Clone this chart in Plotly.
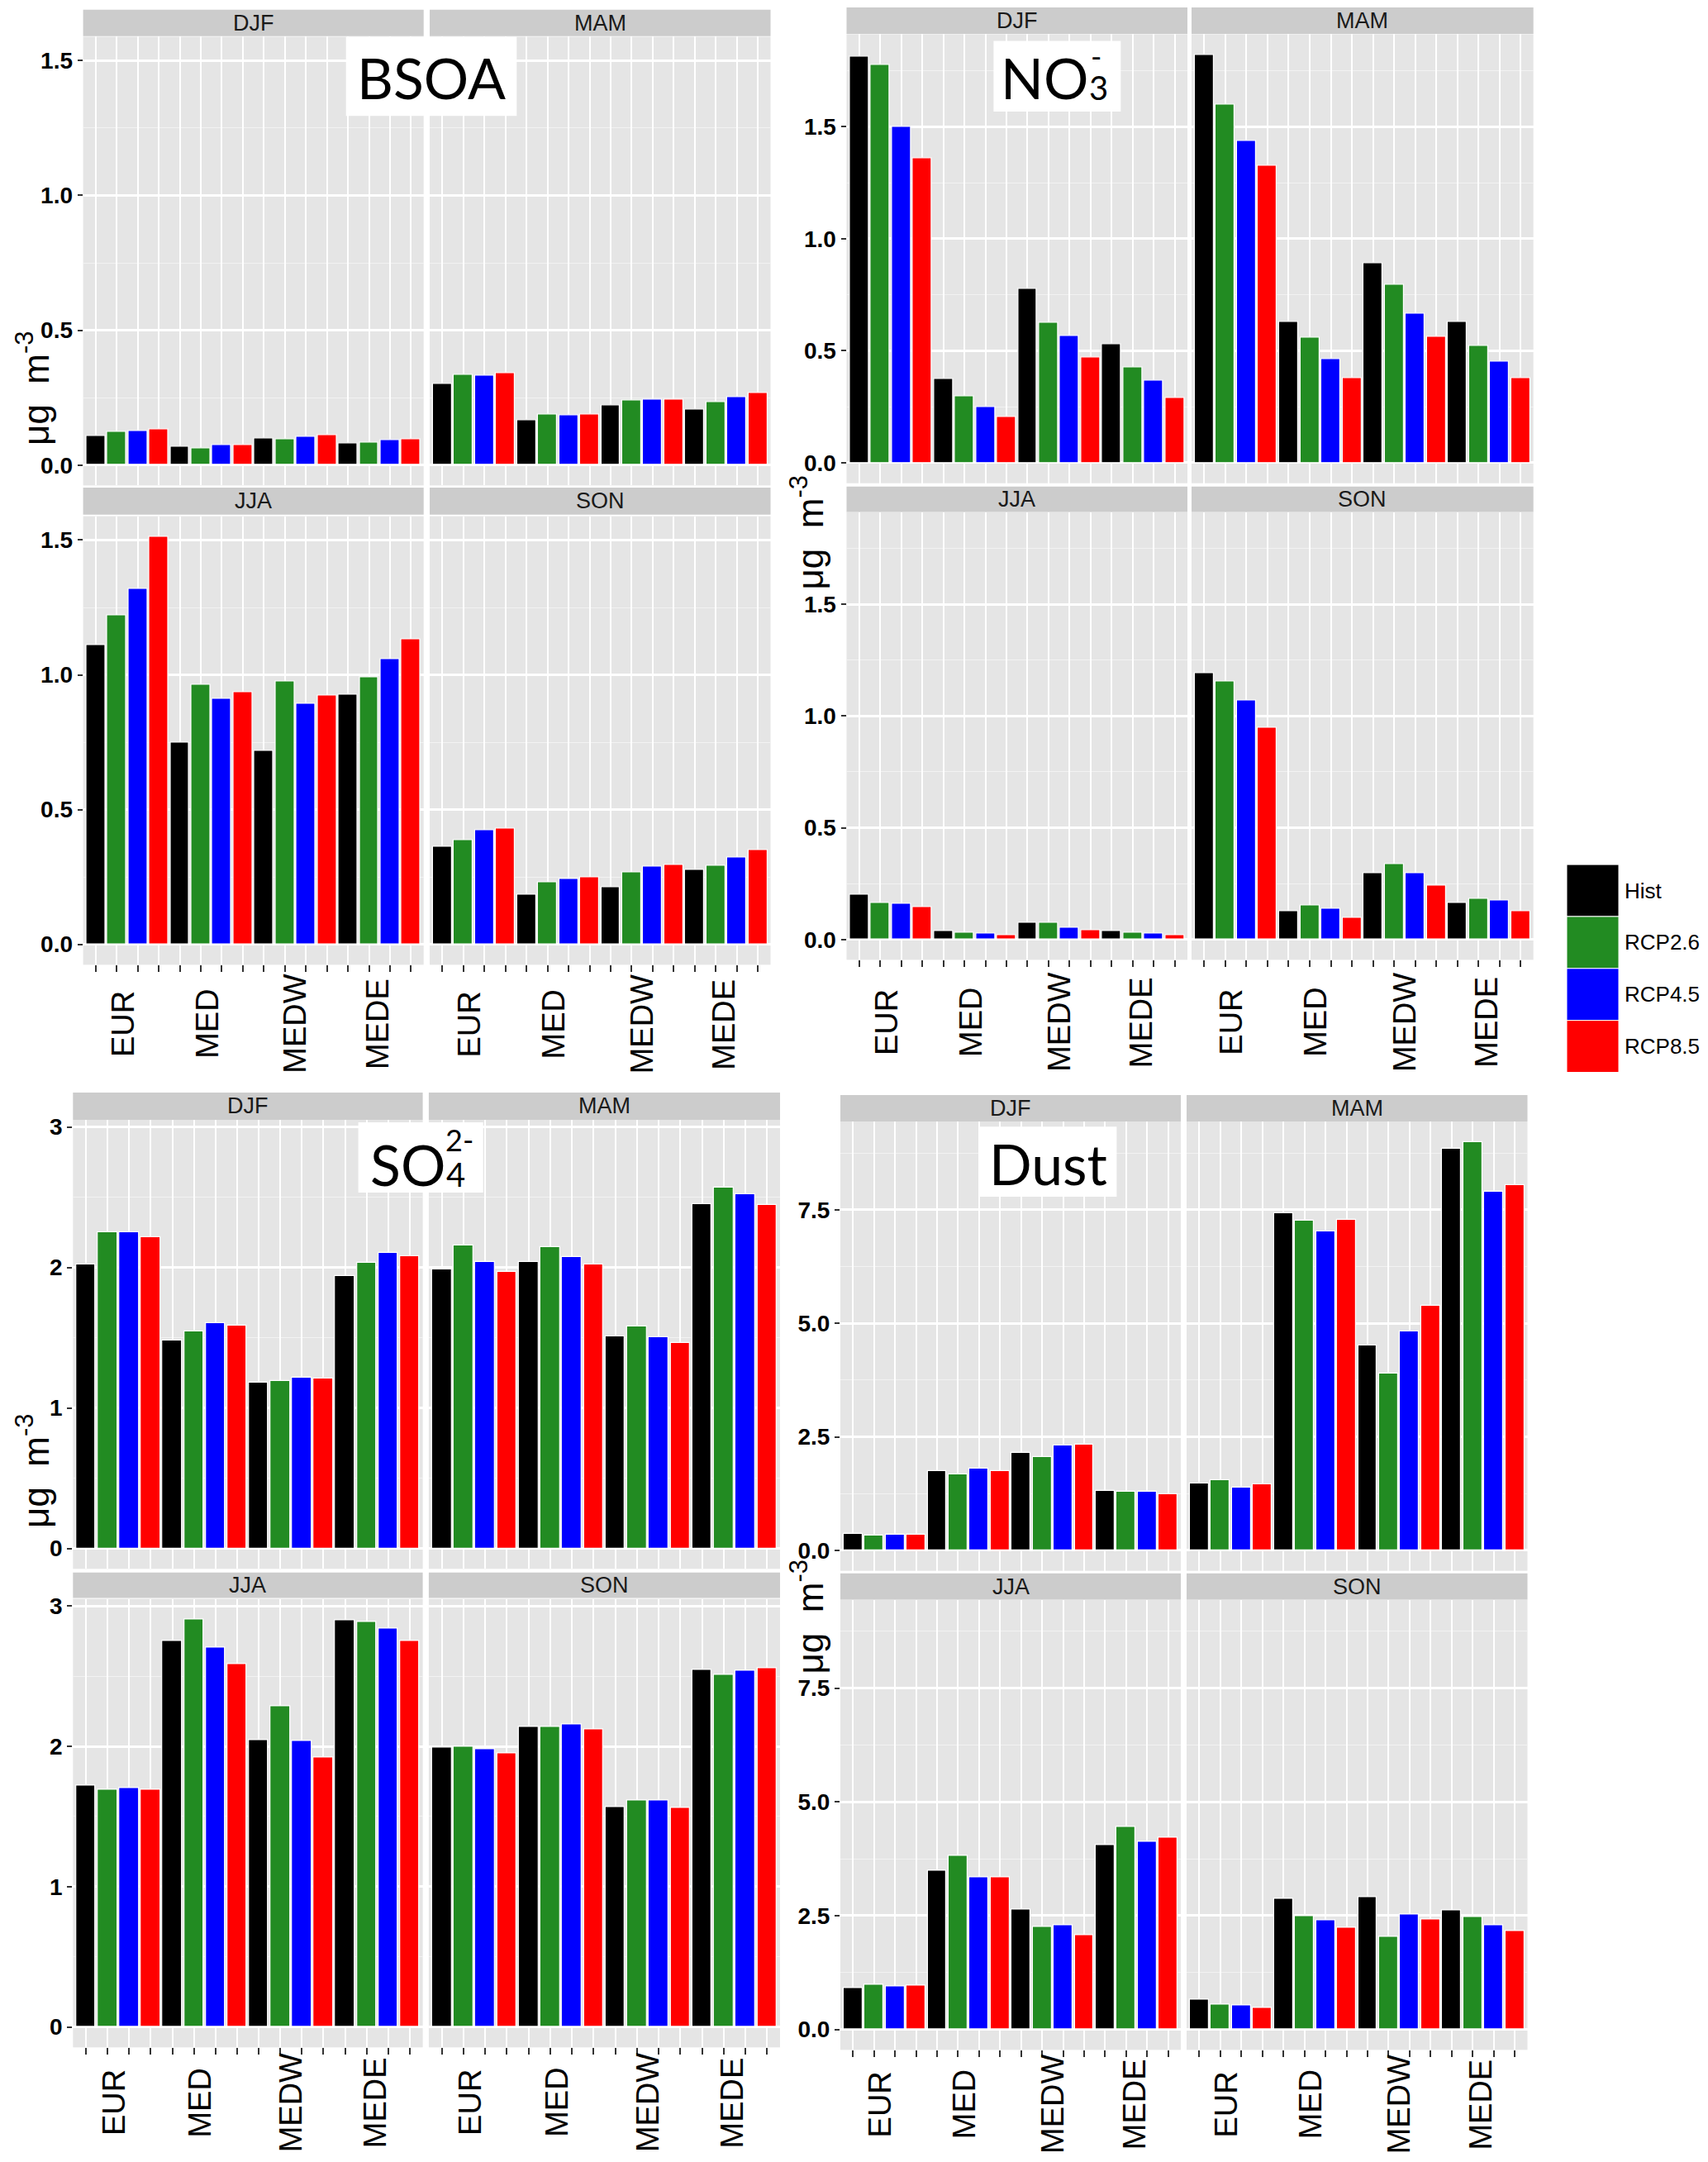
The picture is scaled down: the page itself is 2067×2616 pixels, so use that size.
import plotly.graph_objects as go

W, H = 2067, 2616          # page the chart is laid out on
OFF = 8                    # browser body margin
FW, FH = W - OFF, H - 2 * OFF

REGIONS = ["EUR", "MED", "MEDW", "MEDE"]
SCENARIOS = ["Hist", "RCP2.6", "RCP4.5", "RCP8.5"]
SEASONS = ["DJF", "MAM", "JJA", "SON"]
COLORS = ["#000000", "#228B22", "#0000FF", "#FF0000"]

# each list: EUR(Hist, RCP2.6, RCP4.5, RCP8.5), MED(...), MEDW(...), MEDE(...)
bsoa_djf = [0.109, 0.122, 0.125, 0.134, 0.067, 0.063, 0.073, 0.073, 0.100, 0.096, 0.105, 0.112, 0.080, 0.084, 0.092, 0.097]
bsoa_mam = [0.300, 0.336, 0.332, 0.340, 0.165, 0.189, 0.186, 0.189, 0.222, 0.239, 0.242, 0.242, 0.206, 0.234, 0.251, 0.267]
bsoa_jja = [1.109, 1.220, 1.319, 1.513, 0.749, 0.963, 0.910, 0.934, 0.717, 0.974, 0.894, 0.923, 0.927, 0.991, 1.059, 1.133]
bsoa_son = [0.361, 0.386, 0.423, 0.430, 0.184, 0.231, 0.241, 0.249, 0.211, 0.267, 0.289, 0.296, 0.277, 0.291, 0.321, 0.350]

no3_djf = [1.813, 1.778, 1.500, 1.358, 0.374, 0.297, 0.251, 0.204, 0.776, 0.626, 0.568, 0.471, 0.529, 0.426, 0.368, 0.290]
no3_mam = [1.822, 1.601, 1.438, 1.325, 0.631, 0.558, 0.463, 0.379, 0.893, 0.796, 0.665, 0.563, 0.631, 0.524, 0.451, 0.378]
no3_jja = [0.201, 0.165, 0.160, 0.144, 0.036, 0.029, 0.026, 0.019, 0.074, 0.074, 0.053, 0.043, 0.036, 0.029, 0.026, 0.019]
no3_son = [1.191, 1.156, 1.069, 0.948, 0.127, 0.151, 0.136, 0.098, 0.297, 0.338, 0.297, 0.242, 0.165, 0.180, 0.175, 0.127]

so4_djf = [2.023, 2.251, 2.251, 2.219, 1.481, 1.544, 1.607, 1.589, 1.178, 1.194, 1.217, 1.210, 1.941, 2.034, 2.102, 2.081]
so4_mam = [1.989, 2.156, 2.041, 1.971, 2.041, 2.147, 2.072, 2.023, 1.512, 1.580, 1.503, 1.465, 2.454, 2.569, 2.524, 2.445]
so4_jja = [1.723, 1.693, 1.701, 1.693, 2.751, 2.906, 2.704, 2.587, 2.044, 2.283, 2.036, 1.920, 2.898, 2.889, 2.837, 2.751]
so4_son = [1.989, 1.997, 1.981, 1.950, 2.136, 2.136, 2.158, 2.119, 1.568, 1.612, 1.612, 1.560, 2.546, 2.507, 2.540, 2.554]

dust_djf = [0.360, 0.330, 0.350, 0.350, 1.745, 1.675, 1.793, 1.745, 2.156, 2.059, 2.303, 2.324, 1.319, 1.291, 1.291, 1.242]
dust_mam = [1.479, 1.549, 1.389, 1.458, 7.432, 7.264, 7.027, 7.285, 4.508, 3.887, 4.822, 5.394, 8.848, 8.995, 7.892, 8.039]
dust_jja = [0.914, 0.982, 0.939, 0.956, 3.493, 3.817, 3.339, 3.339, 2.639, 2.246, 2.280, 2.067, 4.048, 4.449, 4.116, 4.219]
dust_son = [0.649, 0.547, 0.521, 0.478, 2.861, 2.485, 2.400, 2.229, 2.904, 2.041, 2.519, 2.417, 2.613, 2.468, 2.280, 2.161]

bsoa_ticks = [0, 0.5, 1.0, 1.5]
no3_ticks = [0, 0.5, 1.0, 1.5]
so4_ticks = [0, 1, 2, 3]
dust_ticks = [0, 2.5, 5.0, 7.5]

LABEL_POS = [2.3, 6.3, 10.5, 14.4]   # where the region names sit on the 16-slot axis


def px_x(v):
    return (v - OFF) / FW


def px_y(v):
    return 1 - (v - OFF) / FH


# layout of the four panels, in pixels of the page
panels = [
    dict(title=[("BSOA", 522, 88, 68, "center")], data=[bsoa_djf, bsoa_mam, bsoa_jja, bsoa_son],
         ticks=bsoa_ticks, fmt="{:.1f}",
         cols=[(100.6, 512.7), (520, 932.5)], rows=[(38.5, 582.7), (620, 1164)],
         strips=[(5.8, 37.7), (585.4, 618.2)], label_y=1236,
         ytitle=(40, 465), box=(418.7, 625.3, 38.5, 134.6)),
    dict(title=[("NO", 1319, 88, 68, "right"), ("3", 1316, 100, 40, "left"), ("-", 1318, 62, 36, "left")],
         data=[no3_djf, no3_mam, no3_jja, no3_son], ticks=no3_ticks, fmt="{:.1f}",
         cols=[(1024.5, 1437), (1442, 1855.7)], rows=[(35.5, 580), (615, 1158)],
         strips=[(3, 35), (584, 615)], label_y=1234,
         ytitle=(977, 640), box=(1202.4, 1356.3, 43.5, 129.4)),
    dict(title=[("SO", 541, 1406, 68, "right"), ("4", 538, 1418, 40, "left"), ("2-", 537, 1376, 36, "left")],
         data=[so4_djf, so4_mam, so4_jja, so4_son], ticks=so4_ticks, fmt="{:.0f}",
         cols=[(88.3, 511.6), (518.9, 944)], rows=[(1352, 1896.7), (1933, 2477)],
         strips=[(1319, 1352), (1901, 1932)], label_y=2544,
         ytitle=(40, 1778), box=(433.6, 584.7, 1355, 1440.4)),
    dict(title=[("Dust", 1268, 1405, 68, "center")], data=[dust_djf, dust_mam, dust_jja, dust_son],
         ticks=dust_ticks, fmt="{:.1f}",
         cols=[(1017, 1429), (1436, 1848.5)], rows=[(1354, 1899), (1934, 2480)],
         strips=[(1322, 1354), (1902, 1934)], label_y=2546,
         ytitle=(977, 1955), box=(1185, 1351.4, 1360.4, 1445.4)),
]

fig = go.Figure()
layout_axes = {}
shapes = []
annotations = []

for p, panel in enumerate(panels):
    top = max(max(v) for v in panel["data"])
    yrange = [-0.05 * top, 1.05 * top]
    major = panel["ticks"]
    step = major[1] - major[0]
    for s, season in enumerate(SEASONS):
        k = p * 4 + s + 1
        row, col = divmod(s, 2)
        x0, x1 = panel["cols"][col]
        y0, y1 = panel["rows"][row]
        values = panel["data"][s]
        for j, scen in enumerate(SCENARIOS):
            xs = [r * 4 + j + 1 for r in range(len(REGIONS))]
            ys = [values[r * 4 + j] for r in range(len(REGIONS))]
            fig.add_trace(go.Bar(
                x=xs, y=ys, width=0.9,
                marker=dict(color=COLORS[j], line=dict(color="white", width=1.2)),
                name=scen, showlegend=False,
                xaxis=f"x{k}", yaxis=f"y{k}",
            ))
        bottom = row == 1
        left = col == 0
        layout_axes[f"xaxis{k}"] = dict(
            domain=[px_x(x0), px_x(x1)], anchor=f"y{k}", range=[0.4, 16.6],
            tickvals=list(range(1, 17)), showticklabels=False,
            ticks="outside" if bottom else "", ticklen=8, tickwidth=1.5, tickcolor="#333333",
            showgrid=True, gridcolor="white", gridwidth=2, zeroline=False, showline=False,
        )
        layout_axes[f"yaxis{k}"] = dict(
            domain=[px_y(y1), px_y(y0)], anchor=f"x{k}", range=yrange,
            tickvals=major, ticktext=["<b>" + panel["fmt"].format(t) + "</b>" for t in major],
            showticklabels=left, ticks="outside" if left else "", ticklen=6, tickwidth=1.5,
            tickcolor="#333333",
            tickfont=dict(family="Liberation Sans", size=28, color="black"),
            showgrid=True, gridcolor="white", gridwidth=2.5, zeroline=False, showline=False,
            minor=dict(tick0=step / 2, dtick=step, showgrid=True, gridcolor="#F2F2F2", gridwidth=1),
        )
        # facet strip
        sy0, sy1 = panel["strips"][row]
        shapes.append(dict(type="rect", xref="paper", yref="paper",
                           x0=px_x(x0), x1=px_x(x1), y0=px_y(sy1), y1=px_y(sy0),
                           fillcolor="#CCCCCC", line=dict(width=0), layer="below"))
        annotations.append(dict(text=season, xref="paper", yref="paper",
                                x=px_x((x0 + x1) / 2), y=px_y((sy0 + sy1) / 2),
                                showarrow=False, xanchor="center", yanchor="middle",
                                font=dict(family="Liberation Sans", size=27, color="#1A1A1A")))
        if bottom:
            for lp, reg in zip(LABEL_POS, REGIONS):
                annotations.append(dict(text=reg, xref=f"x{k}", yref="paper",
                                        x=lp, y=px_y(panel["label_y"]), textangle=-90,
                                        showarrow=False, xanchor="center", yanchor="middle",
                                        font=dict(family="Liberation Sans", size=38, color="black")))

    # y axis title
    tx, ty = panel["ytitle"]
    annotations.append(dict(text="\u03bcg  m<sup>-3</sup>", xref="paper", yref="paper",
                            x=px_x(tx), y=px_y(ty), textangle=-90, showarrow=False,
                            xanchor="center", yanchor="middle",
                            font=dict(family="Liberation Sans", size=44, color="black")))
    # species label in a white box
    bx0, bx1, by0, by1 = panel["box"]
    shapes.append(dict(type="rect", xref="paper", yref="paper",
                       x0=px_x(bx0), x1=px_x(bx1), y0=px_y(by1), y1=px_y(by0),
                       fillcolor="white", line=dict(width=0), layer="above"))
    for txt, tx, ty, size, anchor in panel["title"]:
        annotations.append(dict(text=txt, xref="paper", yref="paper",
                                x=px_x(tx), y=px_y(ty), showarrow=False,
                                xanchor=anchor, yanchor="middle",
                                font=dict(family="Lato", size=size, color="black")))

# legend drawn as big colour keys
key_x0, key_x1, key_top, key_h = 1896, 1959, 1042.5, 63
for j, scen in enumerate(SCENARIOS):
    ky0 = key_top + j * key_h
    shapes.append(dict(type="rect", xref="paper", yref="paper",
                       x0=px_x(key_x0), x1=px_x(key_x1), y0=px_y(ky0 + key_h), y1=px_y(ky0),
                       fillcolor=COLORS[j], line=dict(color="white", width=1), layer="above"))
    annotations.append(dict(text=scen, xref="paper", yref="paper",
                            x=px_x(1964), y=px_y(ky0 + key_h / 2), showarrow=False,
                            xanchor="left", yanchor="middle",
                            font=dict(family="Liberation Sans", size=26, color="black")))

fig.update_layout(
    width=FW, height=FH,
    margin=dict(l=0, r=0, t=0, b=0),
    paper_bgcolor="white", plot_bgcolor="#E5E5E5",
    bargap=0, showlegend=False,
    shapes=shapes, annotations=annotations,
    **layout_axes,
)

fig.write_html("out.html")
